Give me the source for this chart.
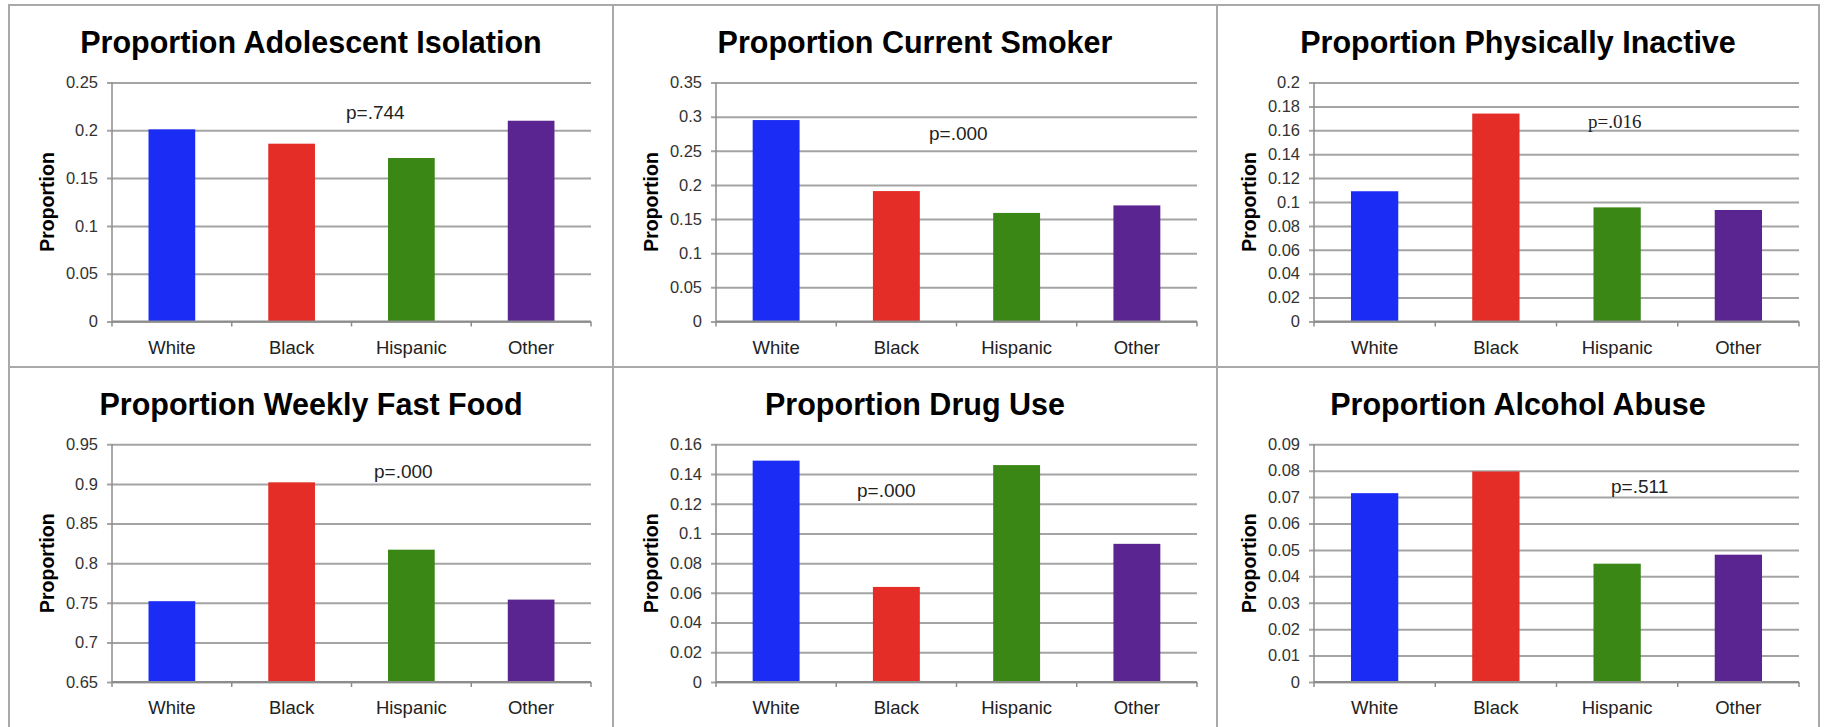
<!DOCTYPE html>
<html>
<head>
<meta charset="utf-8">
<script src="https://cdn.jsdelivr.net/npm/d3@7"></script>
<style>
  body { margin: 0; background: #fff; }
  svg { display: block; font-family: "Liberation Sans", Arial, Helvetica, sans-serif; }
</style>
</head>
<body>
<div id="chart"></div>
<script>
(() => {
  const width = 1826;
  const height = 727;

  // Data
  const categories = ["White", "Black", "Hispanic", "Other"];
  const barColors = ["#1b2df4", "#e32d26", "#3a8716", "#5a2491"];

  const titles = [
    "Proportion Adolescent Isolation",
    "Proportion Current Smoker",
    "Proportion Physically Inactive",
    "Proportion Weekly Fast Food",
    "Proportion Drug Use",
    "Proportion Alcohol Abuse"
  ];

  const isolation = [0.201, 0.186, 0.171, 0.21];
  const smoker = [0.295, 0.191, 0.159, 0.17];
  const inactive = [0.109, 0.174, 0.0955, 0.0933];
  const fastFood = [0.752, 0.902, 0.817, 0.754];
  const drugUse = [0.149, 0.064, 0.146, 0.093];
  const alcohol = [0.0715, 0.0797, 0.0448, 0.0482];

  const isolationTicks = [0, 0.05, 0.1, 0.15, 0.2, 0.25];
  const smokerTicks = [0, 0.05, 0.1, 0.15, 0.2, 0.25, 0.3, 0.35];
  const inactiveTicks = [0, 0.02, 0.04, 0.06, 0.08, 0.1, 0.12, 0.14, 0.16, 0.18, 0.2];
  const fastFoodTicks = [0.65, 0.7, 0.75, 0.8, 0.85, 0.9, 0.95];
  const drugUseTicks = [0, 0.02, 0.04, 0.06, 0.08, 0.1, 0.12, 0.14, 0.16];
  const alcoholTicks = [0, 0.01, 0.02, 0.03, 0.04, 0.05, 0.06, 0.07, 0.08, 0.09];

  const pValues = ["p=.744", "p=.000", "p=.016", "p=.000", "p=.000", "p=.511"];

  const series = [isolation, smoker, inactive, fastFood, drugUse, alcohol];
  const ticks = [isolationTicks, smokerTicks, inactiveTicks, fastFoodTicks, drugUseTicks, alcoholTicks];

  // Layout
  const colLeft = [9, 613, 1217];
  const colWidth = [604, 604, 602];
  const rowTop = [5, 367];
  const rowHeight = [362, 362];
  const plotLeft = [103, 103, 97];
  const plotWidth = [479, 481, 485];
  const plotTop = [77.5, 77.3];
  const plotHeight = [239, 237.7];
  // p-value label placement inside each plot (x from axis, baseline from plot top)
  const pPos = [[234, 36], [213, 57], [274, 45], [262, 34], [141, 53], [297, 49]];
  const pFont = ["sans", "sans", "serif", "sans", "sans", "sans"];

  const svg = d3
    .select("#chart")
    .append("svg")
    .attr("width", width)
    .attr("height", height);

  svg.append("rect").attr("width", width).attr("height", height).attr("fill", "#fff");

  titles.forEach((title, k) => {
    const col = k % 3;
    const row = Math.floor(k / 3);
    const px = colLeft[col];
    const py = rowTop[row];
    const w = plotWidth[col];
    const h = plotHeight[row];

    const panel = svg.append("g").attr("transform", `translate(${px}, ${py})`);

    panel
      .append("rect")
      .attr("x", 0)
      .attr("y", 0)
      .attr("width", colWidth[col])
      .attr("height", rowHeight[row])
      .attr("fill", "#fff")
      .attr("stroke", "#a9a9a9")
      .attr("stroke-width", 2);

    panel
      .append("text")
      .attr("x", colWidth[col] / 2)
      .attr("y", 48)
      .attr("text-anchor", "middle")
      .attr("font-size", "30.5px")
      .attr("font-weight", "bold")
      .attr("fill", "#000")
      .text(title);

    const g = panel
      .append("g")
      .attr("transform", `translate(${plotLeft[col]}, ${plotTop[row]})`);

    const t = ticks[k];
    const yScale = d3
      .scaleLinear()
      .domain([t[0], t[t.length - 1]])
      .range([h, 0]);

    const xScale = d3
      .scaleBand()
      .domain(categories)
      .range([0, w])
      .paddingInner(0.61)
      .paddingOuter(0.305);

    // Grid + y ticks
    const yAxis = g
      .append("g")
      .attr("class", "y-axis")
      .call(
        d3
          .axisLeft(yScale)
          .tickValues(t)
          .tickSize(5)
          .tickPadding(9)
          .tickFormat((d) => String(+d.toFixed(3)))
      );
    yAxis.select(".domain").remove();
    yAxis
      .selectAll(".tick line")
      .attr("x1", -5)
      .attr("x2", w)
      .attr("stroke", "#a4a4a4")
      .attr("stroke-width", 2);
    yAxis
      .selectAll(".tick text")
      .attr("font-size", "16.5px")
      .attr("fill", "#333")
      .attr("font-family", "Liberation Sans, Arial, sans-serif");

    // Axis lines
    g.append("line")
      .attr("x1", 0)
      .attr("x2", 0)
      .attr("y1", 0)
      .attr("y2", h)
      .attr("stroke", "#8c8c8c")
      .attr("stroke-width", 1.5);

    // Bars
    g.selectAll("rect.bar")
      .data(series[k])
      .join("rect")
      .attr("class", "bar")
      .attr("x", (d, i) => xScale(categories[i]))
      .attr("y", (d) => yScale(d))
      .attr("width", xScale.bandwidth())
      .attr("height", (d) => h - yScale(d))
      .attr("fill", (d, i) => barColors[i]);

    // X axis baseline with category boundary ticks
    g.append("line")
      .attr("x1", 0)
      .attr("x2", w)
      .attr("y1", h)
      .attr("y2", h)
      .attr("stroke", "#8c8c8c")
      .attr("stroke-width", 2);

    g.selectAll("line.xtick")
      .data(d3.range(categories.length + 1))
      .join("line")
      .attr("class", "xtick")
      .attr("x1", (d) => d * xScale.step())
      .attr("x2", (d) => d * xScale.step())
      .attr("y1", h)
      .attr("y2", h + 5)
      .attr("stroke", "#8c8c8c")
      .attr("stroke-width", 1.5);

    g.selectAll("text.xlabel")
      .data(categories)
      .join("text")
      .attr("class", "xlabel")
      .attr("x", (d) => xScale(d) + xScale.bandwidth() / 2)
      .attr("y", h + 32)
      .attr("text-anchor", "middle")
      .attr("font-size", "18.5px")
      .attr("fill", "#222")
      .text((d) => d);

    // Y label
    g.append("text")
      .attr("transform", `translate(-58, ${h / 2}) rotate(-90)`)
      .attr("text-anchor", "middle")
      .attr("font-size", "19.5px")
      .attr("font-weight", "bold")
      .attr("fill", "#000")
      .text("Proportion");

    // p-value
    g.append("text")
      .attr("x", pPos[k][0])
      .attr("y", pPos[k][1])
      .attr("font-size", "19px")
      .attr("fill", "#222")
      .attr(
        "font-family",
        pFont[k] === "serif"
          ? "Liberation Serif, Times New Roman, serif"
          : "Liberation Sans, Arial, sans-serif"
      )
      .text(pValues[k]);
  });
})();
</script>
</body>
</html>
